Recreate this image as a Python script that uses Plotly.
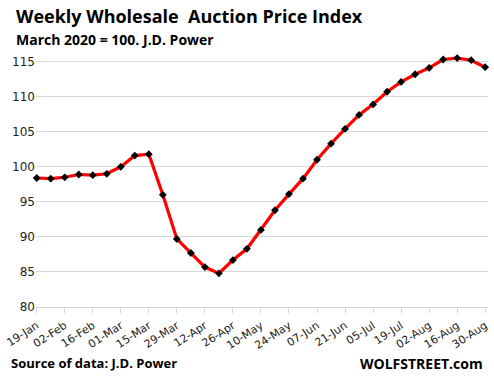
import plotly.graph_objects as go

weeks = ["19-Jan", "26-Jan", "02-Feb", "09-Feb", "16-Feb", "23-Feb", "01-Mar", "08-Mar",
         "15-Mar", "22-Mar", "29-Mar", "05-Apr", "12-Apr", "19-Apr", "26-Apr", "03-May",
         "10-May", "17-May", "24-May", "31-May", "07-Jun", "14-Jun", "21-Jun", "28-Jun",
         "05-Jul", "12-Jul", "19-Jul", "26-Jul", "02-Aug", "09-Aug", "16-Aug", "23-Aug",
         "30-Aug"]
index_values = [98.4, 98.3, 98.5, 98.9, 98.8, 99.0, 100.0, 101.6,
                101.8, 96.0, 89.7, 87.7, 85.7, 84.8, 86.7, 88.3,
                91.0, 93.8, 96.1, 98.3, 101.0, 103.3, 105.4, 107.4,
                108.9, 110.7, 112.1, 113.2, 114.1, 115.3, 115.5, 115.2,
                114.2]
tick_labels = weeks[::2]
y_ticks = [80, 85, 90, 95, 100, 105, 110, 115]

PLOT_H = 381 - 56 - 74  # plot area height in px

fig = go.Figure()
fig.add_trace(go.Scatter(
    x=list(range(len(weeks))), y=index_values,
    mode="lines+markers",
    line=dict(color="#ff0000", width=3.2),
    marker=dict(symbol="diamond", size=6, color="#000000"),
    cliponaxis=False,
    hoverinfo="skip",
))

fig.update_layout(
    width=494, height=381,
    margin=dict(l=36, r=4, t=56, b=74),
    paper_bgcolor="white", plot_bgcolor="white",
    showlegend=False,
    font=dict(family="DejaVu Sans", color="#222222"),
    xaxis=dict(
        range=[-0.05, 32.2],
        tickmode="array",
        tickvals=list(range(0, len(weeks), 2)),
        ticktext=tick_labels,
        tickangle=-33,
        tickfont=dict(size=11, family="DejaVu Sans", color="#222222"),
        ticklabelstandoff=2,
        showgrid=False, zeroline=False,
        showline=True, linecolor="#d4d4d4", linewidth=1,
        ticks="outside", ticklen=5, tickcolor="#d4d4d4",
    ),
    yaxis=dict(
        range=[80, 115.8],
        tickmode="array", tickvals=y_ticks,
        tickfont=dict(size=12, family="DejaVu Sans", color="#222222"),
        showgrid=True, gridcolor="#d9d9d9", gridwidth=1,
        zeroline=False, showline=False, ticks="",
    ),
)

def py(y):
    return (307 - y) / PLOT_H

fig.add_annotation(text="<b>Weekly Wholesale  Auction Price Index</b>",
                   xref="paper", yref="paper", x=(14 - 36) / 454, y=py(16),
                   xanchor="left", yanchor="middle", showarrow=False,
                   font=dict(family="Open Sans", size=18, color="#000000"))
fig.add_annotation(text="<b>March 2020 = 100. J.D. Power</b>",
                   xref="paper", yref="paper", x=(14 - 36) / 454, y=py(39),
                   xanchor="left", yanchor="middle", showarrow=False,
                   font=dict(family="Open Sans", size=14, color="#000000"))
fig.add_annotation(text="<b>Source of data: J.D. Power</b>",
                   xref="paper", yref="paper", x=(9 - 36) / 454, y=py(363),
                   xanchor="left", yanchor="middle", showarrow=False,
                   font=dict(family="Open Sans", size=13, color="#000000"))
fig.add_annotation(text="<b>WOLFSTREET.com</b>",
                   xref="paper", yref="paper", x=(487 - 36) / 454, y=py(363),
                   xanchor="right", yanchor="middle", showarrow=False,
                   font=dict(family="Open Sans", size=14, color="#000000"))

fig.write_html("out.html", config={"displayModeBar": False},
               post_script="document.body.style.margin='0';")
